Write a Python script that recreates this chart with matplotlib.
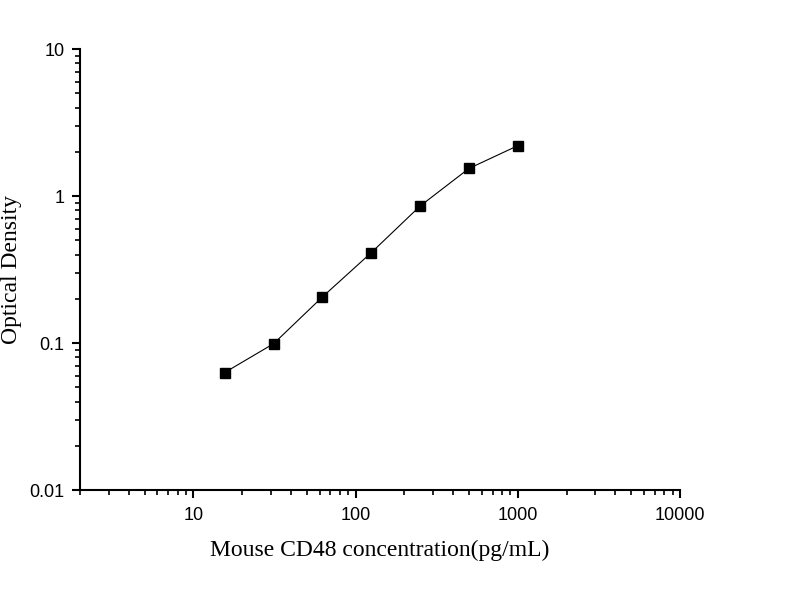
import matplotlib.pyplot as plt
from matplotlib.ticker import LogLocator, FixedLocator, FixedFormatter, NullFormatter

# standard curve values
conc = [15.6, 31.25, 62.5, 125, 250, 500, 1000]
od = [0.063, 0.099, 0.206, 0.412, 0.855, 1.54, 2.20]

x_ticks = [10, 100, 1000, 10000]
x_tick_labels = ['10', '100', '1000', '10000']
y_ticks = [0.01, 0.1, 1, 10]
y_tick_labels = ['0.01', '0.1', '1', '10']

fig = plt.figure(figsize=(8, 6), dpi=100)
ax = fig.add_axes([0.1, 0.1833, 0.75, 0.735])

ax.plot(conc, od, color='black', linewidth=0.8, marker='s', markersize=6.5,
        markerfacecolor='black', markeredgecolor='black')

ax.set_xscale('log')
ax.set_yscale('log')
ax.set_xlim(2, 10000)
ax.set_ylim(0.01, 10)

ax.xaxis.set_major_locator(FixedLocator(x_ticks))
ax.xaxis.set_major_formatter(FixedFormatter(x_tick_labels))
ax.yaxis.set_major_locator(FixedLocator(y_ticks))
ax.yaxis.set_major_formatter(FixedFormatter(y_tick_labels))
ax.xaxis.set_minor_locator(LogLocator(base=10, subs=range(2, 10), numticks=20))
ax.yaxis.set_minor_locator(LogLocator(base=10, subs=range(2, 10), numticks=20))
ax.xaxis.set_minor_formatter(NullFormatter())
ax.yaxis.set_minor_formatter(NullFormatter())

for side in ['top', 'right']:
    ax.spines[side].set_visible(False)
for side in ['left', 'bottom']:
    ax.spines[side].set_linewidth(1.5)

ax.tick_params(which='major', direction='out', length=6, width=1.5, labelsize=13, pad=5)
ax.tick_params(axis='x', which='major', pad=6)
ax.tick_params(which='minor', direction='out', length=3.5, width=1.2)
for lbl in ax.get_xticklabels() + ax.get_yticklabels():
    lbl.set_fontfamily('Liberation Sans')

ax.set_xlabel('Mouse CD48 concentration(pg/mL)', fontfamily='Liberation Serif', fontsize=17)
ax.set_ylabel('Optical Density', fontfamily='Liberation Serif', fontsize=17)
ax.xaxis.set_label_coords(0.5, -0.112)
ax.yaxis.set_label_coords(-0.097, 0.5)

fig.savefig('out.png', dpi=100)
